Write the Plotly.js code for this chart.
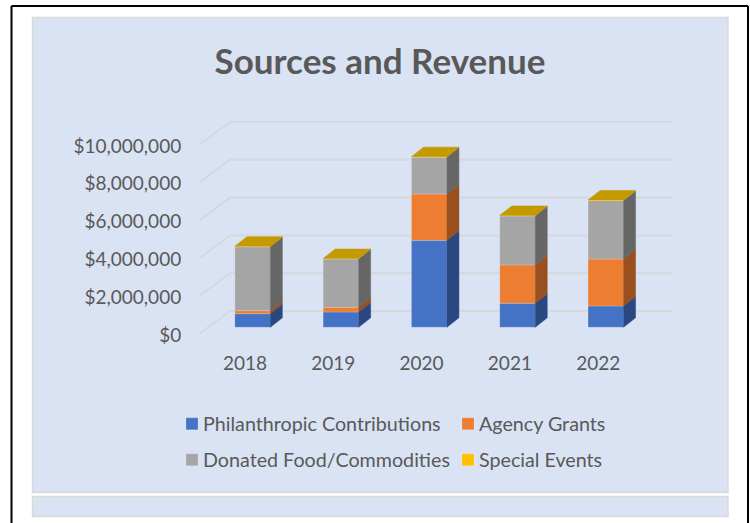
<!DOCTYPE html>
<html>
<head>
<meta charset="utf-8">
<script src="https://cdn.plot.ly/plotly-3.0.1.min.js"></script>
<style>html,body{margin:0;padding:0;background:#fff;overflow:hidden}</style>
</head>
<body>
<div id="chart" style="width:750px;height:523px"></div>
<script>
const years = ["2018","2019","2020","2021","2022"];
const philanthropic = [720000, 810000, 4600000, 1270000, 1130000];
const agencyGrants = [160000, 250000, 2450000, 2030000, 2480000];
const donatedFood = [3380000, 2550000, 1950000, 2590000, 3090000];
const specialEvents = [30000, 30000, 30000, 30000, 30000];
const gridValues = [0, 2000000, 4000000, 6000000, 8000000, 10000000];
const tickLabels = ["$0","$2,000,000","$4,000,000","$6,000,000","$8,000,000","$10,000,000"];

const W = 750, H = 523;
const L = 199, R = 672, T = 110, B = 334;
const pxPerCat = 88.3, pxPerDollar = 18.9 / 1e6;
const xMin = -46 / pxPerCat, xMax = xMin + (R - L) / pxPerCat;
const yMax = (B - T) / pxPerDollar;
const px = x => (x - L) / (R - L);
const py = y => (B - y) / (B - T);

const positions = years.map((_, i) => i);
const barOffset = 7.6 / pxPerCat, barWidth = 35.5 / pxPerCat;
const barLift = 6.7 / pxPerDollar;
const sideDx = 12 / pxPerCat, sideDy = 9.5 / pxPerDollar;
const wallDx = 31 / pxPerCat, wallDy = 23 / pxPerDollar;

const series = [
  {name: "Philanthropic Contributions", v: philanthropic, c: "#4472C4", side: "#2A4880", legend: "legend"},
  {name: "Agency Grants", v: agencyGrants, c: "#ED7D31", side: "#9A4F1E", legend: "legend"},
  {name: "Donated Food/Commodities", v: donatedFood, c: "#A5A5A5", side: "#666666", legend: "legend2"},
  {name: "Special Events", v: specialEvents, c: "#FFC000", side: "#A67F00", legend: "legend2"}
];

const traces = [];
const gx = [], gy = [];
gridValues.forEach(v => {
  gx.push(xMin, xMin + wallDx, xMax, null);
  gy.push(v, v + wallDy, v + wallDy, null);
});
traces.push({type: "scatter", mode: "lines", x: gx, y: gy, xaxis: "x", yaxis: "y",
  line: {color: "#D6D8DC", width: 2}, hoverinfo: "skip", showlegend: false});

const totals = years.map(() => 0);
series.forEach(s => {
  const bases = totals.slice();
  traces.push({type: "bar", name: s.name, x: positions.map(p => p + barOffset), y: s.v, base: bases,
    width: barWidth, xaxis: "x", yaxis: "y2", legend: s.legend,
    marker: {color: s.c, line: {color: "rgba(255,255,255,0.25)", width: 0.8}}, hoverinfo: "skip"});
  const sx = [], sy = [];
  positions.forEach((p, i) => {
    const x1 = p + barOffset + barWidth / 2, y0 = bases[i], y1 = bases[i] + s.v[i];
    sx.push(x1, x1 + sideDx, x1 + sideDx, x1, x1, null);
    sy.push(y0, y0 + sideDy, y1 + sideDy, y1, y0, null);
  });
  traces.push({type: "scatter", mode: "lines", x: sx, y: sy, xaxis: "x", yaxis: "y2", fill: "toself",
    fillcolor: s.side, line: {color: s.side, width: 0.5}, hoverinfo: "skip", showlegend: false});
  positions.forEach((_, i) => totals[i] += s.v[i]);
});
const tx = [], ty = [];
positions.forEach((p, i) => {
  const a = p + barOffset - barWidth / 2, b = p + barOffset + barWidth / 2, t = totals[i];
  tx.push(a, b, b + sideDx, a + sideDx, a, null);
  ty.push(t, t, t + sideDy, t + sideDy, t, null);
});
traces.push({type: "scatter", mode: "lines", x: tx, y: ty, xaxis: "x", yaxis: "y2", fill: "toself",
  fillcolor: "#C49A00", line: {color: "#C49A00", width: 0.5}, hoverinfo: "skip", showlegend: false});

const rect = (x0, y0, x1, y1, fill, line) => ({type: "rect", xref: "paper", yref: "paper", layer: "below",
  x0: px(x0), x1: px(x1), y0: py(y0), y1: py(y1), fillcolor: fill, line: {color: line, width: 1.5}});
const seg = (x0, y0, x1, y1) => ({type: "line", xref: "paper", yref: "paper", layer: "below",
  x0: px(x0), x1: px(x1), y0: py(y0), y1: py(y1), line: {color: "#000", width: 2}});

const font = "Lato, 'Open Sans', sans-serif";
const legendCommon = {orientation: "h", xanchor: "left", yanchor: "middle", entrywidth: 231, entrywidthmode: "pixels",
  bgcolor: "rgba(0,0,0,0)", font: {family: font, size: 19.7, color: "#595959"}, traceorder: "normal"};

const layout = {
  width: W, height: H,
  margin: {l: L, r: W - R, t: T, b: H - B, pad: 0},
  paper_bgcolor: "#FFFFFF", plot_bgcolor: "rgba(0,0,0,0)",
  barmode: "overlay",
  title: {text: "<b>Sources and Revenue</b>", x: 380 / W, xref: "container", xanchor: "center", y: 1 - 62 / H, yref: "container", yanchor: "middle",
    font: {family: font, size: 35, color: "#595959"}},
  xaxis: {range: [xMin, xMax], tickmode: "array", tickvals: positions, ticktext: years, showgrid: false, zeroline: false,
    showline: false, ticks: "outside", ticklen: 12, tickcolor: "rgba(0,0,0,0)", tickfont: {family: font, size: 19, color: "#595959"}},
  yaxis: {range: [0, yMax], tickmode: "array", tickvals: gridValues, ticktext: tickLabels, showgrid: false, zeroline: false,
    showline: false, ticks: "outside", ticklen: 13, tickcolor: "rgba(0,0,0,0)", ticklabelshift: 1, tickfont: {family: font, size: 19, color: "#595959"}},
  yaxis2: {overlaying: "y", side: "left", range: [-barLift, yMax - barLift], visible: false, showgrid: false, zeroline: false},
  legend: Object.assign({x: px(163), y: py(424)}, legendCommon),
  legend2: Object.assign({x: px(163), y: py(460)}, legendCommon),
  shapes: [
    rect(32.5, 17.5, 728, 492.5, "#DAE3F3", "#D9D9D9"),
    rect(32.5, 496.5, 728, 516.5, "#DAE3F3", "#D9D9D9"),
    seg(11.5, 6, 748, 6), seg(11.5, 6, 11.5, 523), seg(748, 6, 748, 523)
  ]
};

Plotly.newPlot("chart", traces, layout, {displayModeBar: false, staticPlot: true, responsive: false}).then(() => {
  document.querySelectorAll(".infolayer g.traces g.layers").forEach(g => g.setAttribute("transform", "translate(9,0)"));
});
</script>
</body>
</html>
